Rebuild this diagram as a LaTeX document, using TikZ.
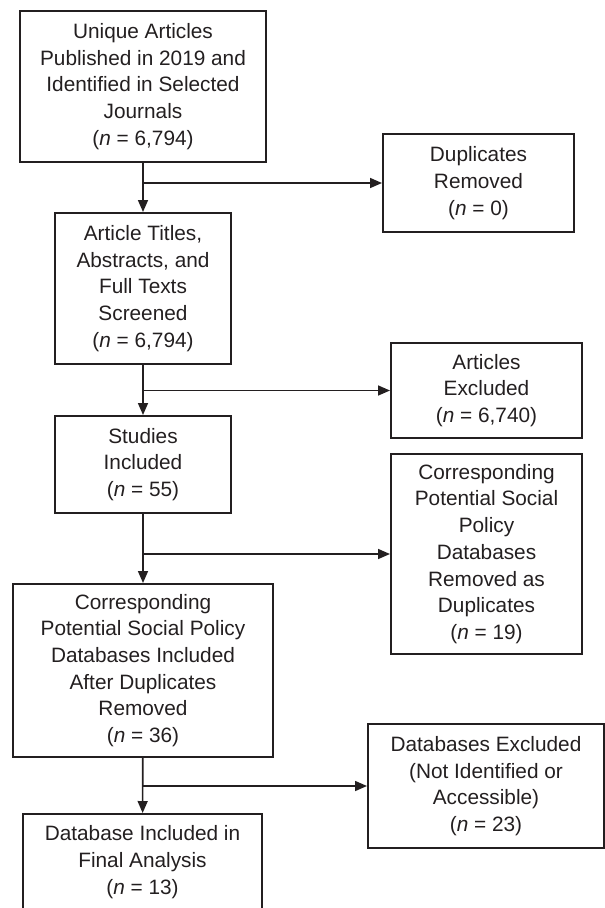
\documentclass[tikz,border=0pt]{standalone}
\usepackage{fontspec}
\setmainfont{Liberation Sans}
\usetikzlibrary{arrows.meta}
\definecolor{ink}{HTML}{231F20}

\begin{document}
\begin{tikzpicture}[x=1pt,y=-1pt,
		box/.style={draw=ink,line width=2pt,text=ink,align=center,inner sep=0pt,
			font=\fontsize{20.8}{26.7}\selectfont},
		arr/.style={draw=ink,line width=1.6pt,-{Triangle[length=12pt,width=10pt]}}]
		%%%%% START %%%%%
		
		\useasboundingbox (0,0) rectangle (605,908);
		\clip (0,0) rectangle (605,908);
		
		% main column
		\node[box, minimum width=246, minimum height=151] (unique) at (143, 86.5)
			{Unique Articles\\Published in 2019 and\\Identified in Selected\\Journals\\(\textit{n} = 6,794)};
		\node[box, minimum width=176, minimum height=151] (screened) at (143, 288.5)
			{Article Titles,\\Abstracts, and\\Full Texts\\Screened\\(\textit{n} = 6,794)};
		\node[box, minimum width=176, minimum height=97] (studies) at (143, 464.5)
			{Studies\\Included\\(\textit{n} = 55)};
		\node[box, minimum width=260, minimum height=173] (dbincl) at (143, 670.5)
			{Corresponding\\Potential Social Policy\\Databases Included\\After Duplicates\\Removed\\(\textit{n} = 36)};
		\node[box, minimum width=239, minimum height=96] (final) at (142.5, 862)
			{Database Included in\\Final Analysis\\(\textit{n} = 13)};
		
		% side column
		\node[box, minimum width=191, minimum height=98] (dupl) at (478.5, 183)
			{Duplicates\\Removed\\(\textit{n} = 0)};
		\node[box, minimum width=191, minimum height=95] (artexcl) at (486.5, 390.5)
			{Articles\\Excluded\\(\textit{n} = 6,740)};
		\node[box, minimum width=191, minimum height=200] (dbdupl) at (486.5, 554)
			{Corresponding\\Potential Social\\Policy\\Databases\\Removed as\\Duplicates\\(\textit{n} = 19)};
		\node[box, minimum width=236, minimum height=124] (dbexcl) at (486, 786)
			{Databases Excluded\\(Not Identified or\\Accessible)\\(\textit{n} = 23)};
		
		% flow
		\draw[arr] (unique) -- (screened);
		\draw[arr] (screened) -- (studies);
		\draw[arr] (studies) -- (dbincl);
		\draw[arr] (dbincl) -- (final);
		
		\draw[arr] (unique.south |- dupl.west) -- (dupl.west);
		\draw[arr] (screened.south |- artexcl.west) -- (artexcl.west);
		\draw[arr] (studies.south |- dbdupl.west) -- (dbdupl.west);
		\draw[arr] (dbincl.south |- dbexcl.west) -- (dbexcl.west);
		
		%%%%% END %%%%%
	\end{tikzpicture}
\end{document}
